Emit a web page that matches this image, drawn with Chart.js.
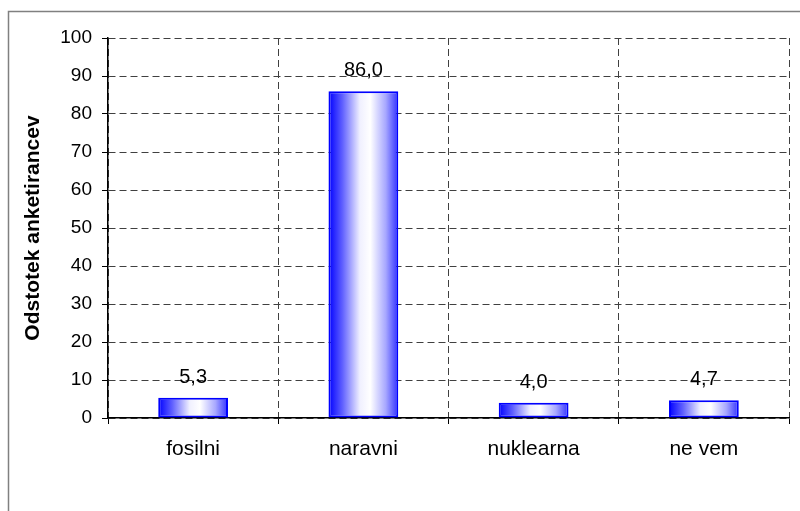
<!DOCTYPE html>
<html>
<head>
<meta charset="utf-8">
<script src="https://cdn.jsdelivr.net/npm/chart.js@4/dist/chart.umd.min.js"></script>
<style>
  html, body { margin: 0; padding: 0; background: #ffffff; }
  #wrap { width: 800px; height: 511px; position: relative; }
</style>
</head>
<body>
<div id="wrap"><canvas id="c" width="800" height="511"></canvas></div>
<script>
const categories = ['fosilni', 'naravni', 'nuklearna', 'ne vem'];
const values = [5.3, 86.0, 4.0, 4.7];
const yTitle = 'Odstotek anketirancev';
const yMin = 0, yMax = 100, yStep = 10;

const FONT = '"Liberation Sans", Arial, sans-serif';

function barGradient(ctx) {
  const chart = ctx.chart;
  const xs = chart.scales.x;
  if (!xs || !chart.chartArea) return '#0000ff';
  const cx = xs.getPixelForValue(ctx.dataIndex);
  const catW = xs.width / categories.length;
  const w = catW * 0.41;
  const g = chart.ctx.createLinearGradient(cx - w / 2, 0, cx + w / 2, 0);
  g.addColorStop(0, '#0000ff');
  g.addColorStop(0.2, '#6060ff');
  g.addColorStop(0.45, '#f0f0ff');
  g.addColorStop(0.6, '#ffffff');
  g.addColorStop(0.82, '#a8a8ff');
  g.addColorStop(1, '#3030ff');
  return g;
}

const frame = {
  id: 'frame',
  beforeDraw(chart) {
    const c = chart.ctx;
    c.save();
    c.fillStyle = '#ffffff';
    c.fillRect(0, 0, chart.width, chart.height);
    c.strokeStyle = '#808080';
    c.lineWidth = 1.5;
    c.beginPath();
    c.moveTo(8.5, 520);
    c.lineTo(8.5, 11.5);
    c.lineTo(810, 11.5);
    c.stroke();
    c.restore();
  }
};

const valueLabels = {
  id: 'valueLabels',
  afterDatasetsDraw(chart) {
    const c = chart.ctx;
    const meta = chart.getDatasetMeta(0);
    c.save();
    c.font = '20px ' + FONT;
    c.fillStyle = '#000000';
    c.textAlign = 'center';
    c.textBaseline = 'alphabetic';
    meta.data.forEach((bar, i) => {
      const txt = values[i].toFixed(1).replace('.', ',');
      c.fillText(txt, bar.x, bar.y - 15);
    });
    c.restore();
  }
};

new Chart(document.getElementById('c'), {
  type: 'bar',
  data: {
    labels: categories,
    datasets: [{
      data: values,
      backgroundColor: barGradient,
      borderColor: '#0000ff',
      borderWidth: 2,
      borderSkipped: false,
      categoryPercentage: 1.0,
      barPercentage: 0.41
    }]
  },
  options: {
    responsive: false,
    animation: false,
    devicePixelRatio: 1,
    layout: { padding: { left: 0, top: 38, right: 11, bottom: 0 } },
    plugins: {
      legend: { display: false },
      tooltip: { enabled: false }
    },
    scales: {
      x: {
        offset: true,
        grid: {
          offset: true,
          color: '#404040',
          lineWidth: 1,
          drawTicks: true,
          tickLength: 6,
          tickColor: '#000000',
          tickBorderDash: []
        },
        border: { display: true, color: '#000000', width: 1.5, dash: [7, 4] },
        ticks: {
          color: '#000000',
          font: { family: FONT, size: 21 },
          padding: 13,
          maxRotation: 0
        },
        afterFit(scale) { scale.height = 93; }
      },
      y: {
        min: yMin,
        max: yMax,
        grid: {
          color: '#404040',
          lineWidth: 1,
          drawTicks: true,
          tickLength: 6,
          tickColor: '#000000',
          tickBorderDash: []
        },
        border: { display: true, color: '#000000', width: 1.5, dash: [7, 4] },
        ticks: {
          stepSize: yStep,
          color: '#000000',
          font: { family: FONT, size: 19 },
          padding: 10
        },
        title: {
          display: true,
          text: yTitle,
          color: '#000000',
          font: { family: FONT, size: 21, weight: 'bold' },
          padding: { top: 21, bottom: 0 }
        },
        afterFit(scale) { scale.width = 108; }
      }
    }
  },
  plugins: [frame, valueLabels]
});
</script>
</body>
</html>
